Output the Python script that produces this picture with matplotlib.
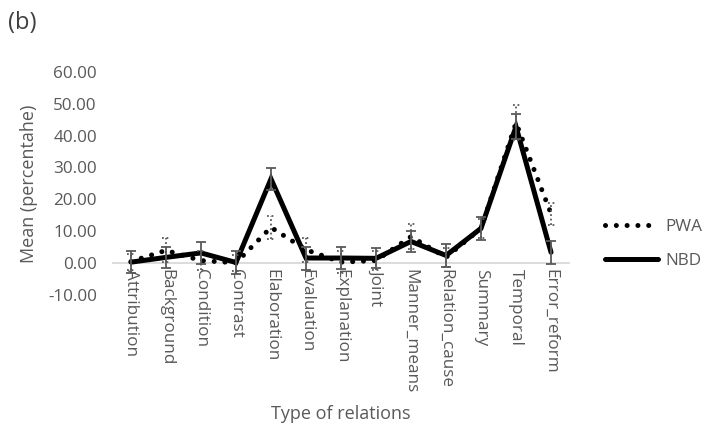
import matplotlib
matplotlib.use("Agg")
import matplotlib.pyplot as plt
import numpy as np

plt.rcParams['font.family'] = ['Open Sans', 'DejaVu Sans']

# data
categories = ['Attribution', 'Background', 'Condition', 'Contrast', 'Elaboration',
              'Evaluation', 'Explanation', 'Joint', 'Manner_means', 'Relation_cause',
              'Summary', 'Temporal', 'Error_reform']
pwa = [0.5, 4.0, 0.8, 0.1, 11.2, 4.2, 0.3, 0.8, 8.3, 1.8, 10.9, 44.0, 15.5]
pwa_err = [2.5, 3.8, 3.0, 2.5, 3.7, 3.7, 3.5, 3.0, 4.0, 3.0, 3.0, 5.5, 3.5]
nbd = [0.3, 1.8, 3.2, 0.2, 26.4, 1.6, 1.6, 1.5, 6.8, 2.4, 10.9, 42.8, 3.4]
nbd_err = [3.4, 3.2, 3.4, 3.5, 3.5, 3.6, 3.5, 3.1, 3.3, 3.6, 3.5, 4.0, 3.6]
yticks = [-10, 0, 10, 20, 30, 40, 50, 60]

grey = '#595959'

fig = plt.figure(figsize=(7.11, 4.40), dpi=100)
ax = fig.add_axes([0.1596, 0.3295, 0.64, 0.5075])

x = np.arange(len(categories))

# lines
ax.plot(x, pwa, color='black', lw=3.6, linestyle=(0, (0.01, 2.15)),
        dash_capstyle='round', label='PWA', zorder=3)
ax.plot(x, nbd, color='black', lw=3.6, solid_capstyle='round',
        solid_joinstyle='miter', label='NBD', zorder=4)

# error bars: NBD solid grey, PWA dotted grey
ax.errorbar(x, nbd, yerr=nbd_err, fmt='none', ecolor=grey, elinewidth=1.3,
            capsize=3.6, capthick=1.3, zorder=5)
pwa_lo = np.array(pwa) - np.array(pwa_err)
pwa_hi = np.array(pwa) + np.array(pwa_err)
ax.vlines(x, pwa_lo, pwa_hi, colors=grey, linestyles=(0, (1, 1.5)), lw=1.3, zorder=5)
ax.hlines(pwa_lo, x - 0.1, x + 0.1, colors=grey, linestyles=(0, (1, 1.5)), lw=1.3, zorder=5)
ax.hlines(pwa_hi, x - 0.1, x + 0.1, colors=grey, linestyles=(0, (1, 1.5)), lw=1.3, zorder=5)

ax.set_xlim(-0.5, len(categories) - 0.5)
ax.set_ylim(-10, 60)

# axis styling, category axis sits at y = 0
for s in ['top', 'right', 'left']:
    ax.spines[s].set_visible(False)
ax.spines['bottom'].set_position(('data', 0))
ax.spines['bottom'].set_color('#d9d9d9')
ax.spines['bottom'].set_linewidth(1.3)
ax.spines['bottom'].set_zorder(1)

ax.set_xticks(x)
ax.set_xticklabels(categories, rotation=-90, fontsize=12.3, color=grey)
ax.tick_params(axis='x', length=0, pad=4)
ax.set_yticks(yticks)
ax.set_yticklabels(['%.2f' % v for v in yticks], fontsize=12.3, color=grey)
ax.tick_params(axis='y', length=0, pad=12)

ax.set_ylabel('Mean (percentahe)', fontsize=13, color=grey, labelpad=7)
fig.text(0.479, 0.06, 'Type of relations', fontsize=13, color=grey,
         ha='center', va='center')
fig.text(0.011, 0.948, '(b)', fontsize=17, color='#404040', ha='left', va='center')

fig.legend(loc='center left', bbox_to_anchor=(0.851, 0.4455), frameon=False,
           fontsize=12.3, handlelength=3.1, handletextpad=0.45, labelspacing=1.0,
           borderpad=0, borderaxespad=0, labelcolor=grey)

fig.savefig('out.png', dpi=100)
